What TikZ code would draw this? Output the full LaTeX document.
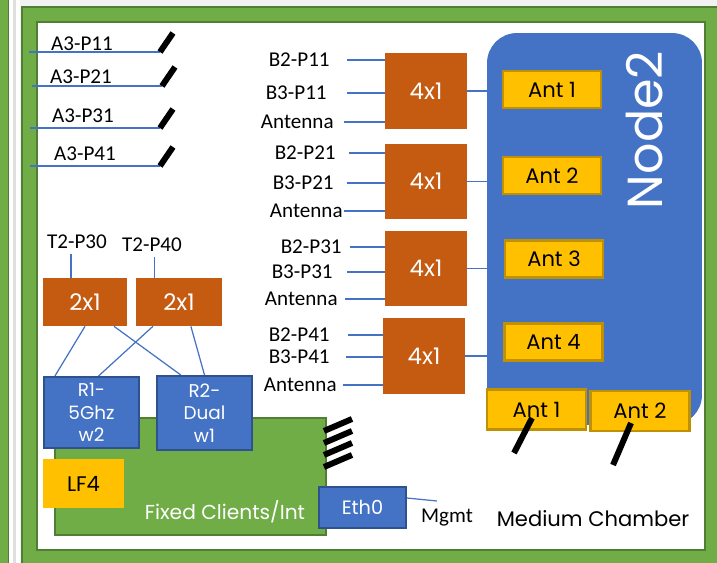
\documentclass[tikz,border=0pt]{standalone}
\usepackage{fontspec}
\setmainfont{Carlito}
\newfontfamily\gothic{Poppins}
\usetikzlibrary{positioning}

\definecolor{splitorange}{HTML}{C55A11}
\definecolor{nodeblue}{HTML}{4472C4}
\definecolor{blueborder}{HTML}{2F528F}
\definecolor{clientgreen}{HTML}{70AD47}
\definecolor{greenborder}{HTML}{507E32}
\definecolor{antgold}{HTML}{FFC000}
\definecolor{antborder}{HTML}{BF9000}

\begin{document}
\begin{tikzpicture}[x=0.02cm, y=-0.02cm,
    lbl/.style={font=\fontsize{12}{14}\selectfont, inner sep=0pt},
    splitbox/.style={fill=splitorange, text=white, font=\gothic\fontsize{13}{15}\selectfont,
        minimum width=1.64cm, minimum height=1.52cm, inner sep=0pt},
    antbox/.style={fill=antgold, draw=antborder, line width=1.2pt, font=\gothic\fontsize{12}{14}\selectfont,
        minimum width=1.96cm, minimum height=0.74cm, inner sep=0pt},
    radiobox/.style={fill=nodeblue, draw=blueborder, line width=1.2pt, text=white,
        font=\gothic\fontsize{10.5}{12.75}\selectfont, align=center, inner sep=0pt},
    wire/.style={nodeblue, line width=0.7pt},
    slash/.style={black, line width=3.4pt}]
    \useasboundingbox (0,0) rectangle (717,563);

    % Chamber walls
    \fill[gray!10] (0,0) rectangle (717,563);
    \fill[clientgreen] (0,-5) rectangle (8,570);
    \draw[greenborder] (8,-5) -- (8,570);
    \fill[white] (9,-5) rectangle (20,570);
    \fill[gray!25] (13,-5) rectangle (16,570);
    \draw[greenborder, fill=clientgreen, line width=1pt] (22,7) rectangle (730,580);
    \draw[greenborder, fill=white, line width=1pt] (37,22) rectangle (705,550);

    % A3 ports, cut off
    \foreach \i/\lx/\ly/\y/\xa/\xb in {1/82/44/52/29/160, 2/81/77/86/32/162, 3/83/116/128/30/160, 4/85/154/166/30/160} {
        \node[lbl] (a3p\i) at (\lx,\ly) {A3-P\i1};
        \coordinate (a3s\i) at (\xa,\y);
        \coordinate (a3e\i) at (\xb,\y);
        \draw[wire] (a3s\i) -- (a3e\i);
        \draw[slash] (a3e\i) -- ++(13,-19);
    }

    % Node2 with its antennas
    \node[fill=nodeblue, rounded corners=0.6cm, minimum width=4.3cm, minimum height=7.84cm] (node2) at (594.5,229) {};
    \node[font=\gothic\fontsize{28}{30}\selectfont, text=white, rotate=90] (node2lbl) at (645,130) {Node2};
    \node[antbox] (ant1) at (552,89.5) {Ant 1};
    \node[antbox] (ant2) at (552,175.5) {Ant 2};
    \node[antbox] (ant3) at (554,259) {Ant 3};
    \node[antbox] (ant4) at (553.5,342) {Ant 4};
    \node[antbox, minimum width=1.98cm, minimum height=0.8cm] (antb1) at (536.5,409.5) {Ant 1};
    \node[antbox, minimum width=1.98cm, minimum height=0.8cm] (antb2) at (640,411) {Ant 2};
    \coordinate (cut1a) at (532,418);
    \coordinate (cut1b) at (514,453);
    \coordinate (cut2a) at (631,423);
    \coordinate (cut2b) at (613,465);
    \draw[slash] (cut1a) -- (cut1b);
    \draw[slash] (cut2a) -- (cut2b);

    % 4x1 combiners
    \node[splitbox] (mux1) at (426,91) {4x1};
    \node[splitbox] (mux2) at (426,181.5) {4x1};
    \node[splitbox] (mux3) at (426,268.5) {4x1};
    \node[splitbox] (mux4) at (424,356) {4x1};
    \foreach \i in {1,...,4}
        \draw[wire] (mux\i.east) -- (mux\i.east -| ant\i.west);

    % Inputs of the combiners
    \foreach \m/\lab/\ex/\y/\sx in {1/B2-P11/330/60/347, 1/B3-P11/327/93/347, 1/Antenna/334/122/344,
            2/B2-P21/336/153/349, 2/B3-P21/334/183/347, 2/Antenna/343/211/344,
            3/B2-P31/342/247/350, 3/B3-P31/333/272/347, 3/Antenna/338/299/345,
            4/B2-P41/330/335/348, 4/B3-P41/330/357/346, 4/Antenna/337/385/343} {
        \node[lbl, anchor=east] (in\y) at (\ex,\y) {\lab};
        \coordinate (w\y) at (\sx,\y);
        \draw[wire] (w\y) -- (w\y -| mux\m.west);
    }

    % Fixed clients
    \node[fill=clientgreen, draw=greenborder, line width=1pt, minimum width=5.42cm, minimum height=2.34cm] (clients) at (190.5,476.5) {};
    \node[font=\gothic\fontsize{11.5}{13}\selectfont, text=white] (clientslbl) at (225,512) {Fixed Clients/Int};
    \node[fill=antgold, minimum width=1.62cm, minimum height=0.98cm, font=\gothic\fontsize{12}{14}\selectfont] (lf4) at (83.5,483.5) {LF4};
    \foreach \y in {425,437,449,461}
        \draw[slash] (324,\y+6) -- (352,\y-6);

    % 2x1 combiners and radios
    \node[lbl] (t2a) at (77,242) {T2-P30};
    \node[lbl] (t2b) at (152,245) {T2-P40};
    \node[splitbox, minimum width=1.68cm, minimum height=0.96cm] (comb1) at (85,302) {2x1};
    \node[splitbox, minimum width=1.72cm, minimum height=0.96cm] (comb2) at (179,302) {2x1};
    \node[radiobox, minimum width=1.9cm, minimum height=1.42cm] (r1) at (91.5,412.5) {R1-\\5Ghz\\w2};
    \node[radiobox, minimum width=1.9cm, minimum height=1.48cm] (r2) at (204.5,413) {R2-\\Dual\\w1};
    \draw[wire] ([yshift=-0.1cm]comb1.120 |- t2a.south) -- (comb1.120);
    \draw[wire] ([yshift=-0.1cm]comb2.135 |- t2b.south) -- (comb2.135);
    \draw[wire] (comb1.south) -- (r1.135);
    \draw[wire] (comb1.-40) -- (r2.122);
    \draw[wire] (comb2.-137) -- (r1.79);
    \draw[wire] (comb2.-64) -- (r2.north);

    % Management port
    \node[radiobox, font=\gothic\fontsize{11}{13}\selectfont, minimum width=1.74cm, minimum height=0.82cm] (eth0) at (362.5,507.5) {Eth0};
    \node[lbl] (mgmt) at (447,518) {Mgmt};
    \coordinate (mgmtend) at (437,501);
    \draw[wire] (eth0.12) -- (mgmtend);

    \node[font=\gothic\fontsize{12}{14}\selectfont] (chamber) at (593,519) {Medium Chamber};
\end{tikzpicture}
\end{document}
